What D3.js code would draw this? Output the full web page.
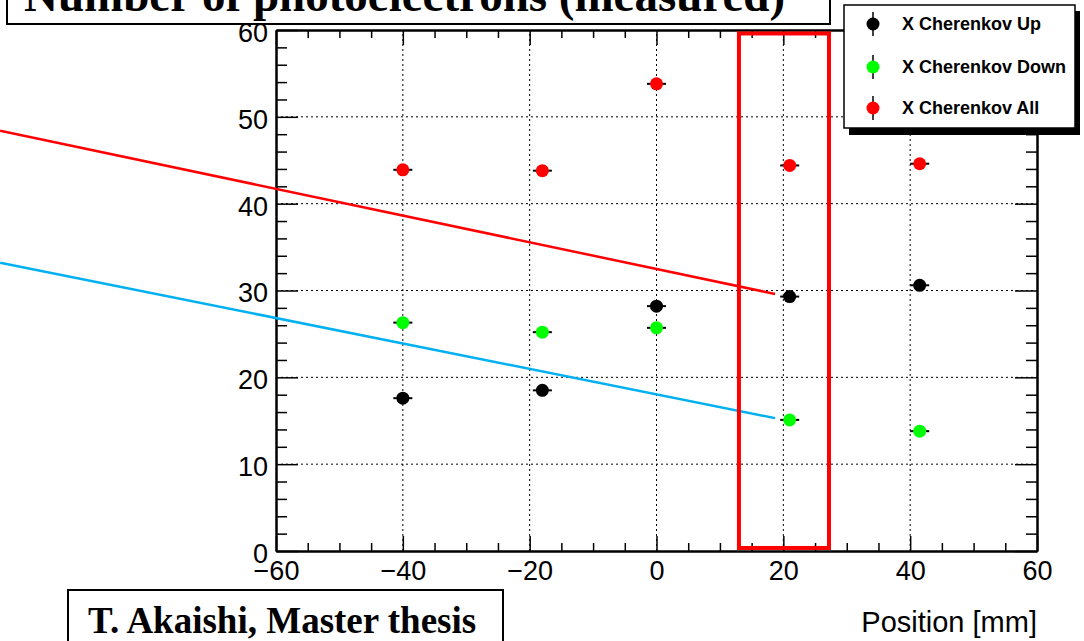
<!DOCTYPE html>
<html>
<head>
<meta charset="utf-8">
<script src="https://cdn.jsdelivr.net/npm/d3@7"></script>
<style>
  body { margin: 0; background: #fff; }
  svg { display: block; }
</style>
</head>
<body>
<script>
let width = 1084;
let height = 641;

let positions = [-40, -18, 0, 21, 41.5];
let upValues = [17.6, 18.5, 28.2, 29.3, 30.6];
let downValues = [26.3, 25.2, 25.7, 15.1, 13.8];
let allValues = [43.9, 43.8, 53.8, 44.4, 44.6];
let seriesNames = ['X Cherenkov Up', 'X Cherenkov Down', 'X Cherenkov All'];
let seriesColors = ['#000000', '#00ff00', '#ff0000'];
let xMajor = [-60, -40, -20, 0, 20, 40, 60];
let yMajor = [0, 10, 20, 30, 40, 50, 60];
let titleText = 'Number of photoelectrons (measured)';
let creditText = 'T. Akaishi, Master thesis';
let xTitle = 'Position [mm]';

// annotation overlays (data coords)
let highlightBox = {x0: 13, x1: 27.2, y0: 0.35, y1: 59.6};
let arrowLines = [
  {color: '#ff0000', from: [-103.5, 48.4], to: [18.7, 29.6]},
  {color: '#00b0f0', from: [-103.5, 33.2], to: [18.7, 15.3]}
];

let svg = d3.select('body').append('svg')
  .attr('width', width)
  .attr('height', height)
  .attr('viewBox', `0 0 ${width} ${height}`);

let x = d3.scaleLinear().domain([-60, 60]).range([276, 1037]);
let y = d3.scaleLinear().domain([0, 60]).range([551, 30]);

let xMinor = d3.range(-60, 60.1, 5).filter(v => v % 20 !== 0);
let yMinor = d3.range(0, 60.1, 2).filter(v => v % 10 !== 0);

// grid
let grid = svg.append('g')
  .attr('stroke', '#000')
  .attr('stroke-width', 1)
  .attr('stroke-dasharray', '2,3');
grid.selectAll('.gx').data(xMajor.slice(1, -1)).enter().append('line')
  .attr('x1', d => x(d)).attr('x2', d => x(d))
  .attr('y1', y(0)).attr('y2', y(60));
grid.selectAll('.gy').data(yMajor.slice(1, -1)).enter().append('line')
  .attr('x1', x(-60)).attr('x2', x(60))
  .attr('y1', d => y(d)).attr('y2', d => y(d));

let font = 'Liberation Sans, Arial, sans-serif';

let styleAxis = (g) => {
  g.select('.domain').attr('stroke', '#000').attr('stroke-width', 2);
  g.selectAll('.tick line').attr('stroke', '#000').attr('stroke-width', 1.5);
  g.selectAll('.tick text').attr('font-family', font).attr('font-size', 27).attr('fill', '#000');
};

// bottom axis with labels
svg.append('g').attr('transform', `translate(0,${y(0)})`)
  .call(d3.axisBottom(x).tickValues(xMajor).tickSize(-15).tickSizeOuter(0).tickPadding(10))
  .call(styleAxis);
svg.append('g').attr('transform', `translate(0,${y(0)})`)
  .call(d3.axisBottom(x).tickValues(xMinor).tickSize(-8).tickSizeOuter(0).tickFormat(''))
  .call(styleAxis);
// top axis, ticks only
svg.append('g').attr('transform', `translate(0,${y(60)})`)
  .call(d3.axisTop(x).tickValues(xMajor).tickSize(-15).tickSizeOuter(0).tickFormat(''))
  .call(styleAxis);
svg.append('g').attr('transform', `translate(0,${y(60)})`)
  .call(d3.axisTop(x).tickValues(xMinor).tickSize(-8).tickSizeOuter(0).tickFormat(''))
  .call(styleAxis);
// left axis with labels (sit a touch below their ticks, as in ROOT)
svg.append('g').attr('transform', `translate(${x(-60)},0)`)
  .call(d3.axisLeft(y).tickValues(yMajor).tickSize(-22).tickSizeOuter(0).tickPadding(8))
  .call(styleAxis)
  .selectAll('.tick text').attr('dy', '0.42em');
svg.append('g').attr('transform', `translate(${x(-60)},0)`)
  .call(d3.axisLeft(y).tickValues(yMinor).tickSize(-11).tickSizeOuter(0).tickFormat(''))
  .call(styleAxis);
// right axis, ticks only
svg.append('g').attr('transform', `translate(${x(60)},0)`)
  .call(d3.axisRight(y).tickValues(yMajor).tickSize(-22).tickSizeOuter(0).tickFormat(''))
  .call(styleAxis);
svg.append('g').attr('transform', `translate(${x(60)},0)`)
  .call(d3.axisRight(y).tickValues(yMinor).tickSize(-11).tickSizeOuter(0).tickFormat(''))
  .call(styleAxis);

// axis title
svg.append('text')
  .attr('x', x(60)).attr('y', 632)
  .attr('text-anchor', 'end')
  .attr('font-family', font).attr('font-size', 29)
  .text(xTitle);

// data points with error bars
let series = [upValues, downValues, allValues].map((vals, i) => ({
  name: seriesNames[i],
  color: seriesColors[i],
  points: positions.map((p, j) => ({x: p, y: vals[j]}))
}));

let xErr = 1.5;
let pts = svg.append('g');
series.forEach(s => {
  let g = pts.append('g');
  g.selectAll('.err').data(s.points).enter().append('line')
    .attr('x1', d => x(d.x - xErr)).attr('x2', d => x(d.x + xErr))
    .attr('y1', d => y(d.y)).attr('y2', d => y(d.y))
    .attr('stroke', '#000').attr('stroke-width', 2);
  g.selectAll('.dot').data(s.points).enter().append('circle')
    .attr('cx', d => x(d.x)).attr('cy', d => y(d.y))
    .attr('r', 6.5)
    .attr('fill', s.color);
});

// annotation lines and highlight box
svg.selectAll('.arrow').data(arrowLines).enter().append('line')
  .attr('x1', d => x(d.from[0])).attr('y1', d => y(d.from[1]))
  .attr('x2', d => x(d.to[0])).attr('y2', d => y(d.to[1]))
  .attr('stroke', d => d.color).attr('stroke-width', 2.5);

svg.append('rect')
  .attr('x', x(highlightBox.x0)).attr('y', y(highlightBox.y1))
  .attr('width', x(highlightBox.x1) - x(highlightBox.x0))
  .attr('height', y(highlightBox.y0) - y(highlightBox.y1))
  .attr('fill', 'none').attr('stroke', '#ff0000').attr('stroke-width', 4);

// legend
let legend = svg.append('g');
legend.append('rect')
  .attr('x', 849).attr('y', 11).attr('width', 231).attr('height', 124)
  .attr('fill', '#000');
legend.append('rect')
  .attr('x', 844).attr('y', 5).attr('width', 231).attr('height', 123)
  .attr('fill', '#fff').attr('stroke', '#000').attr('stroke-width', 1.5);
let legendRows = [24, 67, 108];
let entry = legend.selectAll('.entry').data(series).enter().append('g')
  .attr('transform', (d, i) => `translate(873,${legendRows[i]})`);
entry.append('line')
  .attr('y1', -12).attr('y2', 12)
  .attr('stroke', '#000').attr('stroke-width', 1.5);
entry.append('circle').attr('r', 6.5).attr('fill', d => d.color);
entry.append('text')
  .attr('x', 29).attr('dy', '0.36em')
  .attr('font-family', font).attr('font-size', 18).attr('font-weight', 'bold')
  .text(d => d.name);

// title box at the top, partly cut by the frame
svg.append('rect')
  .attr('x', 7).attr('y', -20).attr('width', 823).attr('height', 44)
  .attr('fill', '#fff').attr('stroke', '#000').attr('stroke-width', 2);
svg.append('text')
  .attr('x', 24).attr('y', 11)
  .attr('font-family', 'Liberation Serif, Times New Roman, serif')
  .attr('font-size', 47).attr('font-weight', 'bold')
  .text(titleText);

// credit box
svg.append('rect')
  .attr('x', 68).attr('y', 590).attr('width', 435).attr('height', 70)
  .attr('fill', '#fff').attr('stroke', '#000').attr('stroke-width', 2);
svg.append('text')
  .attr('x', 88).attr('y', 633)
  .attr('font-family', 'Liberation Serif, Times New Roman, serif')
  .attr('font-size', 37).attr('font-weight', 'bold')
  .text(creditText);
</script>
</body>
</html>
